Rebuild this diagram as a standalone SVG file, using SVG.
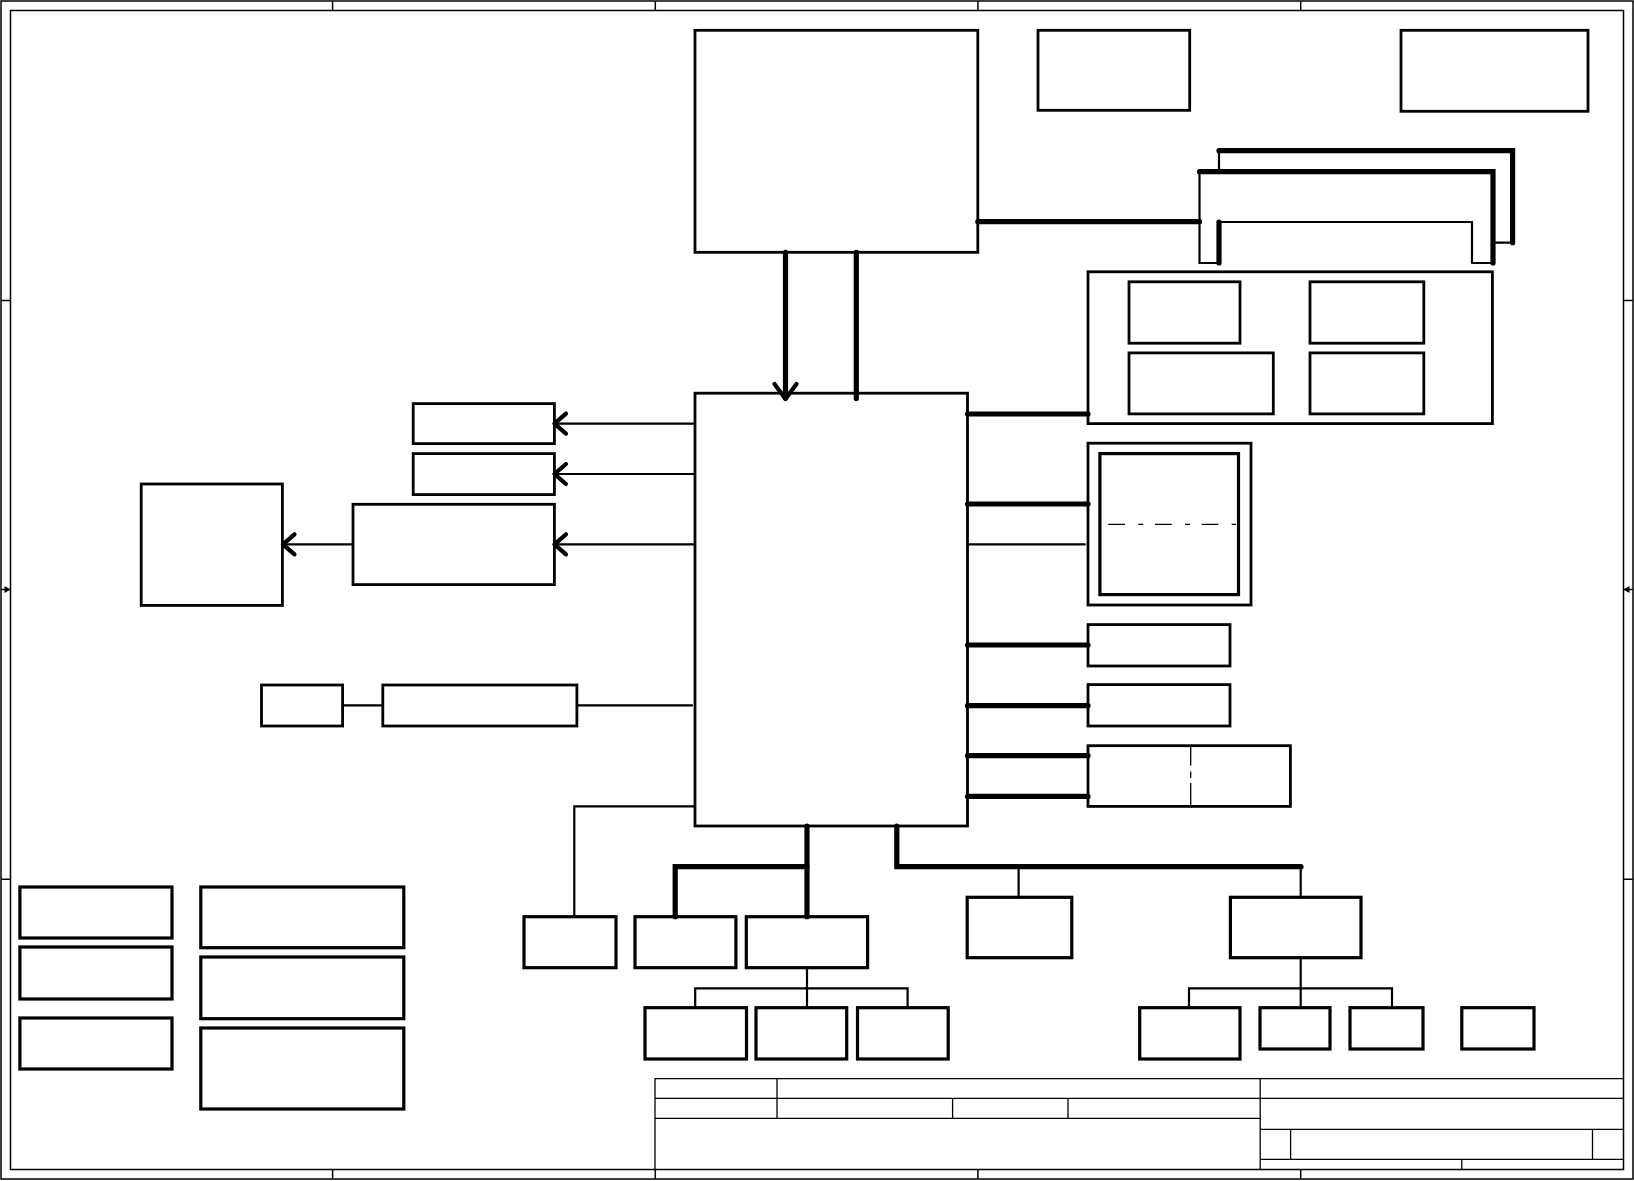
<svg xmlns="http://www.w3.org/2000/svg" width="1634" height="1181" viewBox="0 0 1634 1181">
<style>
.bg{fill:#fff}
.frame{fill:none;stroke:#000;stroke-width:1.5}
.tb{fill:none;stroke:#000;stroke-width:1.3}
.box{fill:none;stroke:#000;stroke-width:2.8}
.boxb{fill:none;stroke:#000;stroke-width:3.2}
.thin{fill:none;stroke:#000;stroke-width:2.2;stroke-linecap:round}
.thick{fill:none;stroke:#000;stroke-width:5.2;stroke-linecap:round}
.arrow{fill:none;stroke:#000;stroke-width:4.2;stroke-linecap:round;stroke-linejoin:round}
.dash{fill:none;stroke:#000;stroke-width:1.3}
.tri{fill:#000}
</style>
<rect class="bg" x="0" y="0" width="1634" height="1181"/>

<g id="frame">
<rect class="frame" x="1" y="1" width="1632" height="1178"/>
<rect class="frame" x="10.5" y="10.5" width="1613" height="1159"/>
<path class="frame" d="M332.6,1V10.5M655.3,1V10.5M977.9,1V10.5M1300.7,1V10.5M332.6,1169.5V1179M655.3,1169.5V1179M977.9,1169.5V1179M1300.7,1169.5V1179M1,300.4H10.5M1,879.3H10.5M1623.5,300.4H1633M1623.5,879.3H1633"/>
<path class="frame" d="M1,589.5H10.5M1623.5,589.5H1633"/>
<polygon class="tri" points="4.5,586 10.5,589.5 4.5,593"/>
<polygon class="tri" points="1629.5,586 1623.5,589.5 1629.5,593"/>
</g>

<g id="title-block">
<path class="tb" d="M655,1169.5V1078.7H1623.5M655,1098.3H1623.5M655,1118.3H1260.2M1260.2,1078.7V1169.5M777,1078.7V1118.3M952.6,1098.3V1118.3M1068,1098.3V1118.3M1260.2,1129.3H1623.5M1260.2,1159.3H1623.5M1290.6,1129.3V1159.3M1592.5,1129.3V1159.3M1461.8,1159.3V1169.5"/>
</g>

<g id="connectors">
<line class="thick" x1="785.5" y1="252.3" x2="785.5" y2="398"/>
<polyline class="arrow" points="774.5,384 785.5,399 796.5,384"/>
<line class="thick" x1="856.3" y1="252.3" x2="856.3" y2="398.6"/>
<line class="thick" x1="977.8" y1="221.7" x2="1199.5" y2="221.7"/>
<line class="thin" x1="695" y1="423.6" x2="555" y2="423.6"/>
<polyline class="arrow" points="566,413.6 554.4,423.6 566,433.6"/>
<line class="thin" x1="695" y1="474" x2="555" y2="474"/>
<polyline class="arrow" points="566,464 554.4,474 566,484"/>
<line class="thin" x1="695" y1="544.3" x2="555" y2="544.3"/>
<polyline class="arrow" points="566,534.3 554.4,544.3 566,554.3"/>
<line class="thin" x1="353" y1="544.3" x2="283" y2="544.3"/>
<polyline class="arrow" points="294.5,534.3 282.9,544.3 294.5,554.3"/>
<line class="thin" x1="342.6" y1="705.4" x2="382.8" y2="705.4"/>
<line class="thin" x1="576.9" y1="705.4" x2="692" y2="705.4"/>
<polyline class="thin" points="695,806.4 574.3,806.4 574.3,916.7"/>
<line class="thick" x1="967.5" y1="414" x2="1088" y2="414"/>
<line class="thick" x1="967.5" y1="504" x2="1088" y2="504"/>
<line class="thin" x1="967.5" y1="544.3" x2="1084.8" y2="544.3"/>
<line class="thick" x1="967.5" y1="645" x2="1088" y2="645"/>
<line class="thick" x1="967.5" y1="705.7" x2="1088" y2="705.7"/>
<line class="thick" x1="967.5" y1="755.7" x2="1088" y2="755.7"/>
<line class="thick" x1="967.5" y1="796.4" x2="1088" y2="796.4"/>
<line class="thick" x1="807" y1="826" x2="807" y2="916.7"/>
<polyline class="thick" points="807,866.7 675.2,866.7 675.2,916.7"/>
<line class="thin" x1="807" y1="967.7" x2="807" y2="1007.7"/>
<polyline class="thin" points="695.2,1007.7 695.2,988.3 907.6,988.3 907.6,1007.7"/>
<polyline class="thick" points="896.8,826 896.8,866.7 1301,866.7"/>
<line class="thin" x1="1018.6" y1="866.7" x2="1018.6" y2="897.3"/>
<line class="thin" x1="1300.7" y1="866.7" x2="1300.7" y2="897.3"/>
<line class="thin" x1="1300.7" y1="957.7" x2="1300.7" y2="1007.7"/>
<polyline class="thin" points="1189,1007.7 1189,988.3 1392,988.3 1392,1007.7"/>
</g>

<g id="cpu"><rect class="box" x="695" y="30.3" width="282.8" height="222"/></g>
<g id="top-box-1"><rect class="box" x="1038" y="30.3" width="151.7" height="80"/></g>
<g id="top-box-2"><rect class="box" x="1401" y="30.3" width="187" height="81"/></g>

<g id="dimm-back">
<path class="thin" d="M1219,171.7V150.7M1493,242.7H1512.6"/>
<path class="thick" d="M1219,150.7H1512.6V242.7"/>
</g>
<g id="dimm-front">
<path class="thin" d="M1199.5,171.7V263H1219M1472,263H1493M1472,263V222H1219"/>
<path class="thick" d="M1199.5,171.7H1493V263M1219,222V263"/>
</g>

<g id="pch"><rect class="box" x="695" y="393.2" width="272.5" height="432.8"/></g>

<g id="left-box-a"><rect class="box" x="413.2" y="403.6" width="141.2" height="40"/></g>
<g id="left-box-b"><rect class="box" x="413.2" y="453.6" width="141.2" height="41"/></g>
<g id="left-box-c"><rect class="box" x="353" y="504.3" width="201.4" height="80.3"/></g>
<g id="left-box-d"><rect class="box" x="141.2" y="484" width="141.2" height="121.4"/></g>
<g id="left-box-e"><rect class="box" x="261.5" y="685" width="81.1" height="41"/></g>
<g id="left-box-f"><rect class="box" x="382.8" y="685" width="194.1" height="41"/></g>

<g id="right-group">
<rect class="box" x="1088" y="271.8" width="404.4" height="151.8"/>
<rect class="box" x="1129" y="281.8" width="111" height="61.4"/>
<rect class="box" x="1310" y="281.8" width="113.8" height="61.4"/>
<rect class="box" x="1129" y="352.9" width="144.3" height="61"/>
<rect class="box" x="1310" y="352.9" width="113.8" height="61"/>
</g>

<g id="right-double">
<rect class="box" x="1088" y="443.2" width="163" height="161.8"/>
<rect class="boxb" x="1099.9" y="453.6" width="138.6" height="141"/>
<line class="dash" x1="1108.3" y1="524.3" x2="1236" y2="524.3" stroke-dasharray="16.7 13.3 5 11.7"/>
</g>

<g id="right-box-g"><rect class="box" x="1088" y="624.6" width="142" height="41.4"/></g>
<g id="right-box-h"><rect class="box" x="1088" y="684.6" width="142" height="41.4"/></g>
<g id="right-box-i">
<rect class="box" x="1088" y="745.7" width="202.4" height="60.7"/>
<path class="dash" d="M1190.7,745.7V765.4M1190.7,771.4V777.9M1190.7,783V806.4"/>
</g>

<g id="bottom-j"><rect class="boxb" x="524" y="916.7" width="92" height="51"/></g>
<g id="bottom-k"><rect class="boxb" x="635" y="916.7" width="100.9" height="51"/></g>
<g id="bottom-l"><rect class="boxb" x="746.3" y="916.7" width="121.3" height="51"/></g>
<g id="bottom-m"><rect class="boxb" x="645" y="1007.7" width="101.5" height="51.3"/></g>
<g id="bottom-n"><rect class="boxb" x="756" y="1007.7" width="90.7" height="51.3"/></g>
<g id="bottom-o"><rect class="boxb" x="857.5" y="1007.7" width="90.7" height="51.3"/></g>
<g id="bottom-p"><rect class="boxb" x="967.2" y="897.3" width="104.6" height="60.4"/></g>
<g id="bottom-q"><rect class="boxb" x="1230.4" y="897.3" width="130.6" height="60.4"/></g>
<g id="bottom-r"><rect class="boxb" x="1139.7" y="1007.7" width="100.3" height="51.3"/></g>
<g id="bottom-s"><rect class="boxb" x="1260" y="1007.7" width="70" height="41.3"/></g>
<g id="bottom-t"><rect class="boxb" x="1350" y="1007.7" width="73" height="41.3"/></g>
<g id="bottom-u"><rect class="boxb" x="1461.8" y="1007.7" width="72.2" height="41.3"/></g>

<g id="legend-v1"><rect class="boxb" x="19.9" y="887" width="152.1" height="51"/></g>
<g id="legend-v2"><rect class="boxb" x="19.9" y="947" width="152.1" height="52"/></g>
<g id="legend-v3"><rect class="boxb" x="19.9" y="1018" width="152.1" height="51"/></g>
<g id="legend-w1"><rect class="boxb" x="200.8" y="887" width="203" height="60.7"/></g>
<g id="legend-w2"><rect class="boxb" x="200.8" y="957" width="203" height="61.7"/></g>
<g id="legend-w3"><rect class="boxb" x="200.8" y="1028" width="203" height="81"/></g>
</svg>
